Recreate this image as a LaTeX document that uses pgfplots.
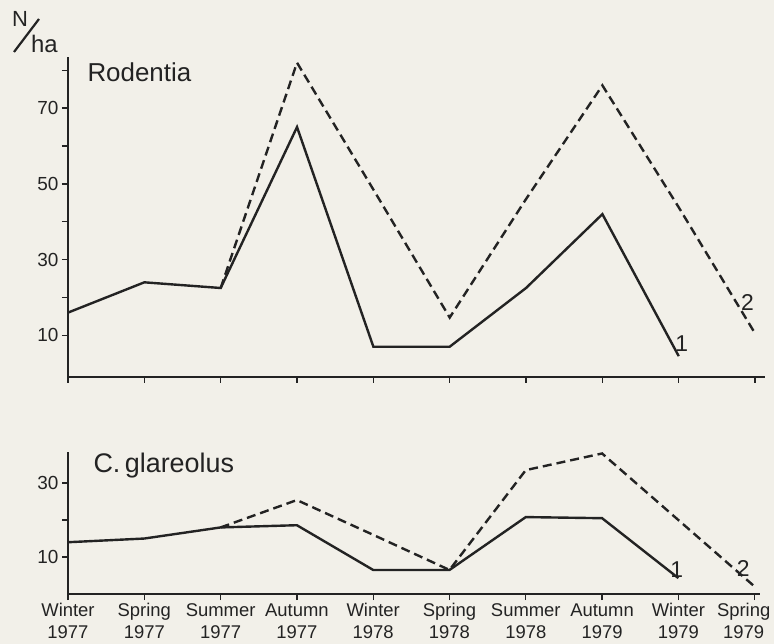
\documentclass[border=0pt]{standalone}
\usepackage{pgfplots}
\pgfplotsset{compat=1.18}
\usepackage{fontspec}
\setmainfont{Liberation Sans}
\definecolor{ink}{RGB}{35,35,35}
\definecolor{paper}{RGB}{242,240,233}
\pgfplotsset{
  common/.style={
    scale only axis, clip=false,
    axis x line*=bottom, axis y line*=left,
    axis line style={ink, line width=1.6bp, -},
    every tick/.style={ink, line width=1.3bp},
    tick align=outside,
    major tick length=6bp, minor tick length=6bp,
    xmin=0, xtick={0,...,9},
    tick label style={font=\fontsize{19}{22}\selectfont, text=ink},
    /pgf/number format/assume math mode=true,
  },
}
\tikzset{
  solidl/.style={ink, line width=2.4bp},
  dashl/.style={ink, line width=2.4bp, dash pattern=on 9bp off 5bp},
  numl/.style={font=\fontsize{23}{25}\selectfont, text=ink},
}
\begin{document}
\begin{tikzpicture}
\fill[paper] (0bp,0bp) rectangle (774bp,644bp);
\useasboundingbox (0bp,0bp) rectangle (774bp,644bp);

% Top panel: Rodentia
\begin{axis}[common, at={(68bp,267bp)}, anchor=south west,
  width=697bp, height=320bp, xmax=9.13, ymin=-1, ymax=83.5,
  ytick={10,30,50,70}, minor ytick={20,40,60,80}, xticklabels={}]
\addplot[solidl] coordinates {(0,16) (1,24) (2,22.5) (3,65) (4,7) (5,7) (6,22.5) (7,42) (8,4.5)};
\addplot[dashl] coordinates {(2,22.5) (3,82) (4,48.5) (5,14.7) (6,46) (7,76) (8,43.8) (9,10.5)};
\node[numl] at (axis cs:8.04,7.8) {1};
\node[numl] at (axis cs:8.9,18.6) {2};
\end{axis}

% Bottom panel: C. glareolus
\begin{axis}[common, at={(68bp,50bp)}, anchor=south west,
  width=692bp, height=142bp, xmax=9.07, ymin=0, ymax=38.4,
  ytick={10,30}, minor ytick={20},
  xtick={0,...,8},
  xticklabels={{Winter\\1977},{Spring\\1977},{Summer\\1977},{Autumn\\1977},{Winter\\1978},{Spring\\1978},{Summer\\1978},{Autumn\\1979},{Winter\\1979}},
  extra x ticks={9},
  extra x tick labels={{Spring\\1979}},
  extra x tick style={xticklabel style={xshift=-11bp}},
  xticklabel style={align=center, font=\fontsize{18.5}{22}\selectfont}]
\addplot[solidl] coordinates {(0,14) (1,15) (2,18) (3,18.6) (4,6.5) (5,6.5) (6,20.8) (7,20.5) (8,4.3)};
\addplot[dashl] coordinates {(2,18) (3,25.4) (4,16) (5,6.5) (6,33.5) (7,38) (8,20) (9,2)};
\node[numl] at (axis cs:7.98,6.5) {1};
\node[numl] at (axis cs:8.85,7) {2};
\end{axis}

\node[font=\fontsize{26}{28}\selectfont, text=ink, anchor=base west] at (84bp,562bp) {Rodentia};
\node[font=\fontsize{27}{29}\selectfont, text=ink, anchor=base west] at (90bp,171bp) {C.\,glareolus};
\node[font=\fontsize{22}{24}\selectfont, text=ink, anchor=base west, inner sep=0pt] at (12bp,617bp) {N};
\node[font=\fontsize{24}{26}\selectfont, text=ink, anchor=base west, inner sep=0pt] at (31bp,591bp) {ha};
\draw[ink, line width=2.2bp] (14bp,592bp) -- (39bp,625bp);
\end{tikzpicture}
\end{document}
